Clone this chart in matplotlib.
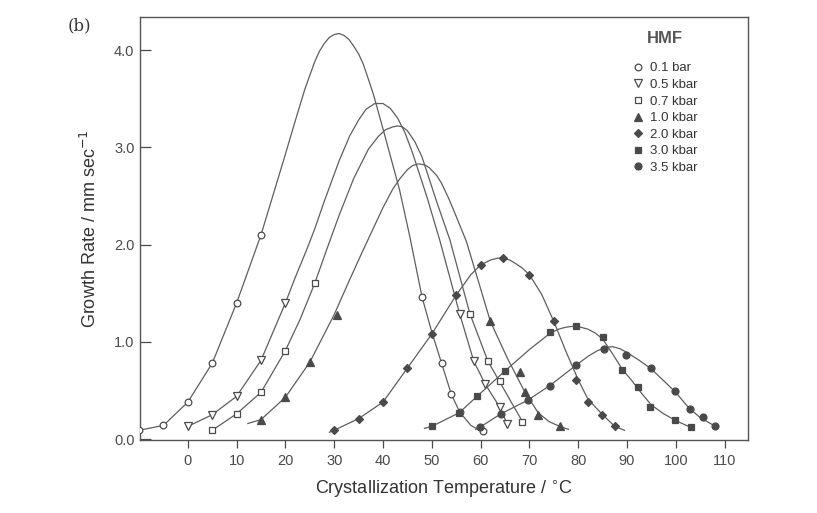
import matplotlib
matplotlib.use('Agg')
import matplotlib.pyplot as plt

# HMF growth rate vs crystallization temperature
labels = ['0.1 bar', '0.5 kbar', '0.7 kbar', '1.0 kbar', '2.0 kbar', '3.0 kbar', '3.5 kbar']

# measured points (markers)
pts_T = [
    [-10, -5, 0, 5, 10, 15, 48, 52, 54, 55.7, 60.5],
    [0, 5, 10, 15, 20, 55.7, 58.6, 61, 63.9, 65.4],
    [5, 10, 15, 20, 26, 57.8, 61.5, 63.9, 68.5],
    [15, 20, 25, 30.5, 62, 68, 69, 71.8, 76.2],
    [30, 35, 40, 45, 50, 55, 60, 64.5, 70, 75, 79.6, 82, 84.8, 87.5],
    [50, 55.6, 59.3, 65, 74.3, 79.6, 85.1, 88.9, 92.3, 94.7, 99.8, 103.2],
    [59.8, 64.2, 69.7, 74.2, 79.6, 85.3, 89.8, 95, 99.8, 102.9, 105.5, 108],
]
pts_G = [
    [0.09, 0.14, 0.38, 0.78, 1.40, 2.10, 1.46, 0.78, 0.46, 0.28, 0.08],
    [0.13, 0.25, 0.44, 0.81, 1.40, 1.29, 0.80, 0.57, 0.33, 0.15],
    [0.09, 0.26, 0.48, 0.91, 1.60, 1.29, 0.80, 0.60, 0.17],
    [0.20, 0.43, 0.79, 1.28, 1.21, 0.69, 0.48, 0.25, 0.13],
    [0.09, 0.21, 0.38, 0.73, 1.08, 1.48, 1.79, 1.86, 1.69, 1.21, 0.61, 0.38, 0.25, 0.13],
    [0.13, 0.27, 0.44, 0.70, 1.10, 1.16, 1.05, 0.71, 0.53, 0.33, 0.20, 0.12],
    [0.12, 0.26, 0.40, 0.55, 0.76, 0.93, 0.86, 0.73, 0.49, 0.31, 0.23, 0.13],
]

# fitted curves
curve_T = [
    [-10, -5, 0, 5, 10, 15, 20, 22, 24, 26, 27, 28, 29, 30, 31, 32, 33, 34, 35, 36, 38, 40, 43.4, 45.5, 48, 50, 52, 54, 55.7, 58, 60.5],
    [0, 5, 10, 15, 20, 22, 24.3, 26, 28, 31, 33.2, 35, 36.5, 38.3, 40, 41.5, 43, 44.5, 46, 49, 51.6, 55.7, 58.6, 61, 63.9, 65.5],
    [5, 10, 15, 20, 23, 26, 28.4, 31, 34, 37, 39, 40.5, 42, 43, 44, 45, 46.5, 48, 51, 53.7, 57.8, 61.5, 63.9, 66.5, 68.7],
    [12.3, 15, 20, 25, 30, 33, 35.9, 40, 42, 43.5, 45, 46, 47.2, 48.5, 49.5, 51, 52, 53.5, 55, 57.1, 59.5, 62, 65.5, 69, 71.8, 74, 76.2, 78],
    [29, 30, 35, 40, 45, 50, 55, 58, 60, 62, 63.5, 64.5, 66, 67, 68.5, 70, 72.5, 75, 77.5, 80, 82, 85, 87.5, 89.5],
    [48.5, 50, 55.6, 59.3, 65, 70, 74.3, 76, 77.5, 79, 80.5, 82, 83.5, 85, 87, 89, 91, 93, 95, 97.5, 100, 103.5],
    [59, 59.8, 64.2, 69.7, 74.2, 79.6, 82, 84, 85.5, 87, 88.5, 90, 92.5, 95, 97.5, 100, 102.5, 105, 108.5],
]
curve_G = [
    [0.09, 0.14, 0.38, 0.78, 1.40, 2.10, 2.93, 3.27, 3.60, 3.88, 3.99, 4.07, 4.13, 4.16, 4.17, 4.15, 4.11, 4.04, 3.96, 3.85, 3.55, 3.19, 2.56, 2.08, 1.46, 1.10, 0.78, 0.46, 0.28, 0.14, 0.07],
    [0.13, 0.25, 0.44, 0.81, 1.40, 1.66, 1.94, 2.16, 2.45, 2.86, 3.12, 3.28, 3.39, 3.45, 3.45, 3.40, 3.30, 3.15, 2.95, 2.49, 2.05, 1.29, 0.80, 0.56, 0.33, 0.15],
    [0.09, 0.26, 0.48, 0.91, 1.23, 1.60, 1.94, 2.30, 2.68, 2.98, 3.11, 3.18, 3.21, 3.22, 3.21, 3.17, 3.06, 2.90, 2.44, 2.05, 1.29, 0.80, 0.59, 0.36, 0.17],
    [0.16, 0.20, 0.43, 0.79, 1.28, 1.62, 1.94, 2.38, 2.57, 2.68, 2.77, 2.81, 2.83, 2.82, 2.79, 2.71, 2.63, 2.47, 2.29, 2.03, 1.63, 1.21, 0.83, 0.49, 0.27, 0.18, 0.13, 0.10],
    [0.07, 0.09, 0.21, 0.38, 0.73, 1.08, 1.48, 1.69, 1.79, 1.84, 1.86, 1.86, 1.84, 1.81, 1.76, 1.69, 1.49, 1.21, 0.90, 0.61, 0.41, 0.25, 0.13, 0.09],
    [0.11, 0.13, 0.27, 0.44, 0.70, 0.92, 1.09, 1.13, 1.15, 1.16, 1.15, 1.13, 1.09, 1.03, 0.88, 0.72, 0.60, 0.47, 0.35, 0.26, 0.19, 0.11],
    [0.10, 0.12, 0.26, 0.40, 0.55, 0.76, 0.85, 0.91, 0.94, 0.95, 0.93, 0.89, 0.81, 0.72, 0.60, 0.48, 0.33, 0.22, 0.12],
]

markers = ['o', 'v', 's', '^', 'D', 's', 'o']
filled = [False, False, False, True, True, True, True]
msizes = [4.8, 5.2, 4.6, 5.2, 4.2, 4.4, 5.0]

x_ticks = list(range(0, 111, 10))
y_ticks = [0.0, 1.0, 2.0, 3.0, 4.0]

plt.rcParams['font.family'] = ['Liberation Sans', 'DejaVu Sans']
ink = '#4a4a4a'

fig = plt.figure(figsize=(8.17, 5.13), dpi=100)
ax = fig.add_axes([0.1714, 0.1423, 0.7441, 0.8246])

for i in range(len(labels)):
    ax.plot(curve_T[i], curve_G[i], '-', color='#5e5e5e', lw=0.9, zorder=2)
    face = ink if filled[i] else 'white'
    ax.plot(pts_T[i], pts_G[i], linestyle='none', marker=markers[i], ms=msizes[i],
            mfc=face, mec=ink, mew=0.9, label=labels[i], zorder=3)

ax.set_xlim(-9.8, 114.8)
ax.set_ylim(-0.01, 4.34)
ax.set_xticks(x_ticks)
ax.set_yticks(y_ticks)
ax.set_yticklabels(['%.1f' % v for v in y_ticks])
ax.tick_params(axis='x', direction='out', length=6, width=0.9, colors=ink, labelsize=10.5, pad=4)
ax.tick_params(axis='y', direction='in', length=8, width=0.9, colors=ink, labelsize=10.5, pad=4)
for s in ax.spines.values():
    s.set_color('#555555')
    s.set_linewidth(1.0)

ax.set_xlabel('Crystallization Temperature / $^{\\circ}$C', fontsize=13, color='#333333', labelpad=8)
ax.set_ylabel('Growth Rate / mm sec$^{-1}$', fontsize=13, color='#333333', labelpad=10)

leg = ax.legend(loc='upper left', bbox_to_anchor=(0.795, 0.915), frameon=False,
                fontsize=9.5, handlelength=0.8, handletextpad=0.5,
                labelspacing=0.33, borderpad=0.2)
for t in leg.get_texts():
    t.set_color('#333333')
ax.text(0.8635, 0.950, 'HMF', transform=ax.transAxes, ha='center', va='center',
        fontsize=12, fontweight='bold', color='#555555')

fig.text(0.083, 0.94, '(b)', fontsize=12, family='DejaVu Serif', color='#333333')

fig.savefig('out.png', dpi=100)
